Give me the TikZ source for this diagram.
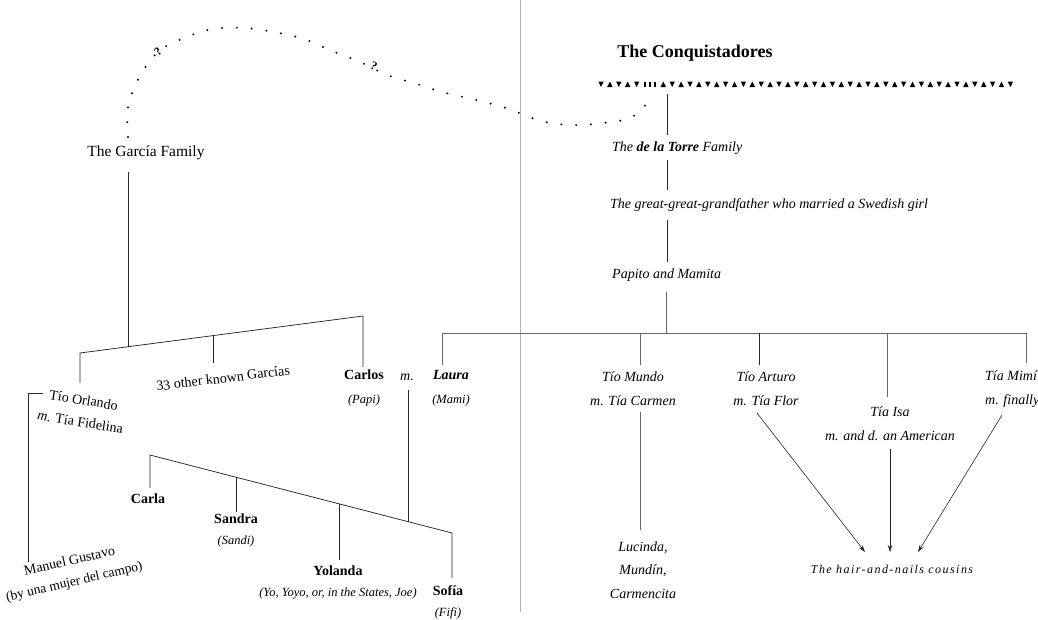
\documentclass[tikz,border=0pt]{standalone}
\usepackage{fontspec}
\setmainfont{Liberation Serif}
\newfontfamily\spacedfont[LetterSpace=12]{Liberation Serif}
\usetikzlibrary{arrows.meta}

\newcommand{\nick}[1]{{\fontsize{12.5}{12.5}\selectfont\mdseries\itshape #1}}

\tikzset{
  link/.style={line width=0.75pt, black!85},
  bar/.style={line width=0.7pt, black!60},
  divider/.style={line width=0.6pt, black!30},
  dotline/.style={line width=2.2pt, line cap=round, dash pattern=on 0pt off 14.8pt},
  tip/.style={-{Stealth[length=7pt,width=4.5pt]}, line width=0.6pt, black!85},
  plain/.style={inner sep=0pt, align=center, font=\fontsize{14}{24}\selectfont},
  ital/.style={plain, font=\fontsize{14}{24}\selectfont\itshape},
  girl/.style={plain, font=\fontsize{14}{21}\selectfont\bfseries},
  query/.style={inner sep=0.6pt, fill=white, font=\fontsize{12}{12}\selectfont\bfseries}
}

\begin{document}
\begin{tikzpicture}[x=1pt,y=-1pt]
\useasboundingbox (0,0) rectangle (1038,619);

% the page is split in two
\draw[divider] (520,0) -- (520,612);

%% ---------- de la Torre side ----------
\node[plain, font=\fontsize{18}{18}\selectfont\bfseries] (conq) at (695,53) {The Conquistadores};

% row of little triangles
\foreach \i in {0,...,46}{
  \pgfmathsetmacro\tx{601+8.9*\i}
  \ifnum\i=5 \else\ifnum\i=6 \else
    \ifodd\i
      \fill (\tx-2.7,87) -- (\tx+2.7,87) -- (\tx,81.5) -- cycle;
    \else
      \fill (\tx-2.7,81.5) -- (\tx+2.7,81.5) -- (\tx,87) -- cycle;
    \fi
  \fi\fi
}
\foreach \bx in {645,650,655}
  \draw[line width=1.3pt] (\bx,81.5) -- (\bx,86.5);

\coordinate (t0) at (667,94);
\coordinate (t1) at (667,135);
\coordinate (t2) at (667,160);
\coordinate (t3) at (667,190);
\coordinate (t4) at (667,220);
\coordinate (t5) at (667,262);
\coordinate (t6) at (666,292);
\coordinate (t7) at (666,333);

\node[ital, anchor=west] (torre) at (612,148) {The \textbf{de la Torre} Family};
\node[ital, anchor=west] (swede) at (610,205) {The great-great-grandfather who married a Swedish girl};
\node[ital, anchor=west] (papito) at (612,275) {Papito and Mamita};

\draw[link] (t0) -- (t1) (t2) -- (t3) (t4) -- (t5);
\draw[bar] (t6) -- (t7);

% the children of Papito and Mamita
\coordinate (lauraTop) at (442,365);
\coordinate (bL) at (442,333);
\coordinate (bR) at (1026,333);
\coordinate (mimiTop) at (1026,363);
\coordinate (dMundo) at (640,333);
\coordinate (eMundo) at (640,365);
\coordinate (dArturo) at (759,333);
\coordinate (eArturo) at (759,365);
\coordinate (dIsa) at (887,333);
\coordinate (eIsa) at (887,397);

\draw[bar] (lauraTop) -- (bL) -- (bR) -- (mimiTop);
\draw[bar] (dMundo) -- (eMundo);
\draw[link] (dArturo) -- (eArturo);
\draw[bar] (dIsa) -- (eIsa);

\node[ital] (mundo) at (633,389) {Tío Mundo\\m. Tía Carmen};
\node[ital] (arturo) at (766,389) {Tío Arturo\\m. Tía Flor};
\node[ital] (isa) at (890,424) {Tía Isa\\m. and d. an American};
\node[ital, anchor=west, align=left] (mimi) at (985,389) {Tía Mimí\\m. finally};

\coordinate (mundoLow) at (640,412);
\coordinate (lucTop) at (640,530);
\draw[bar] (mundoLow) -- (lucTop);
\node[ital, font=\fontsize{14}{23.5}\selectfont\itshape] (lucinda) at (643,570) {Lucinda,\\Mundín,\\Carmencita};

\coordinate (aFoot) at (757,413);
\coordinate (iFoot) at (890,449);
\coordinate (mFoot) at (1002,415);
\coordinate (aHead) at (865,552);
\coordinate (iHead) at (890,552);
\coordinate (mHead) at (918,552);
\draw[tip] (aFoot) -- (aHead);
\draw[tip] (iFoot) -- (iHead);
\draw[tip] (mFoot) -- (mHead);
\node[plain, font=\spacedfont\fontsize{12}{12}\selectfont\itshape] (cousins) at (892,569) {The hair-and-nails cousins};

%% ---------- García side ----------
\node[plain, font=\fontsize{15.5}{15.5}\selectfont] (garcia) at (146,153) {The García Family};

% dotted line over to the Conquistadores
\draw[dotline] plot[smooth, tension=0.6] coordinates {
  (128,137) (128,107) (139,78) (158,52) (184,38) (213,29) (244,28)
  (274,32) (304,39) (332,51) (360,62) (387,75) (417,84) (446,93)
  (476,100) (506,108) (541,121) (572,125) (602,123) (632,117) (653,96)};
\node[query, rotate=42] (q1) at (158,52) {?};
\node[query, rotate=-24] (q2) at (374,66) {?};

\coordinate (g0) at (128,172);
\coordinate (g1) at (128,346.7);
\coordinate (gL) at (80,353);
\coordinate (gR) at (363,316);
\coordinate (gM) at (213,335.6);
\coordinate (orlTop) at (80,383);
\coordinate (othTop) at (213,363);
\coordinate (carTop) at (363,367);
\draw[link] (g0) -- (g1);
\draw[link] (orlTop) -- (gL) -- (gR) -- (carTop);
\draw[link] (gM) -- (othTop);

\node[plain, rotate=7] (others) at (223,378) {33 other known Garcías};
\node[plain, font=\fontsize{14}{24}\selectfont\bfseries] (carlos) at (364,388) {Carlos\\\nick{(Papi)}};
\node[ital] (wed) at (407,377) {m.};
\node[plain, font=\fontsize{14}{24}\selectfont\bfseries\itshape] (laura) at (451,388) {Laura\\\nick{(Mami)}};

% Tío Orlando and his son
\node[plain, font=\fontsize{14}{22}\selectfont, rotate=-9] (orlando) at (82,411) {Tío Orlando\\\textit{m.} Tía Fidelina};
\coordinate (br0) at (43,393);
\coordinate (br1) at (28,393);
\coordinate (br2) at (28,562);
\draw[link] (br0) -- (br1) -- (br2);
\node[plain, font=\fontsize{14}{21}\selectfont, rotate=13] (manuel) at (72,572)
  {Manuel Gustavo\\{\fontsize{13.5}{13.5}\selectfont (by una mujer del campo)}};

% the four girls
\coordinate (cL) at (150,455);
\coordinate (cR) at (452,533);
\coordinate (carlaTop) at (150,488);
\coordinate (sJoin) at (236,477.2);
\coordinate (sTop) at (236,512);
\coordinate (yJoin) at (339,503.8);
\coordinate (yTop) at (339,560);
\coordinate (fTop) at (452,578);
\coordinate (wTop) at (408,390);
\coordinate (wJoin) at (408,521.6);
\draw[link] (carlaTop) -- (cL) -- (cR) -- (fTop);
\draw[link] (sJoin) -- (sTop);
\draw[link] (yJoin) -- (yTop);
\draw[link] (wTop) -- (wJoin);

\node[girl] (carla) at (148,499) {Carla};
\node[girl] (sandra) at (236,530) {Sandra\\\nick{(Sandi)}};
\node[girl] (yolanda) at (338,582) {Yolanda\\\nick{(Yo, Yoyo, or, in the States, Joe)}};
\node[girl] (sofia) at (448,602) {Sofía\\\nick{(Fifi)}};
\end{tikzpicture}
\end{document}
